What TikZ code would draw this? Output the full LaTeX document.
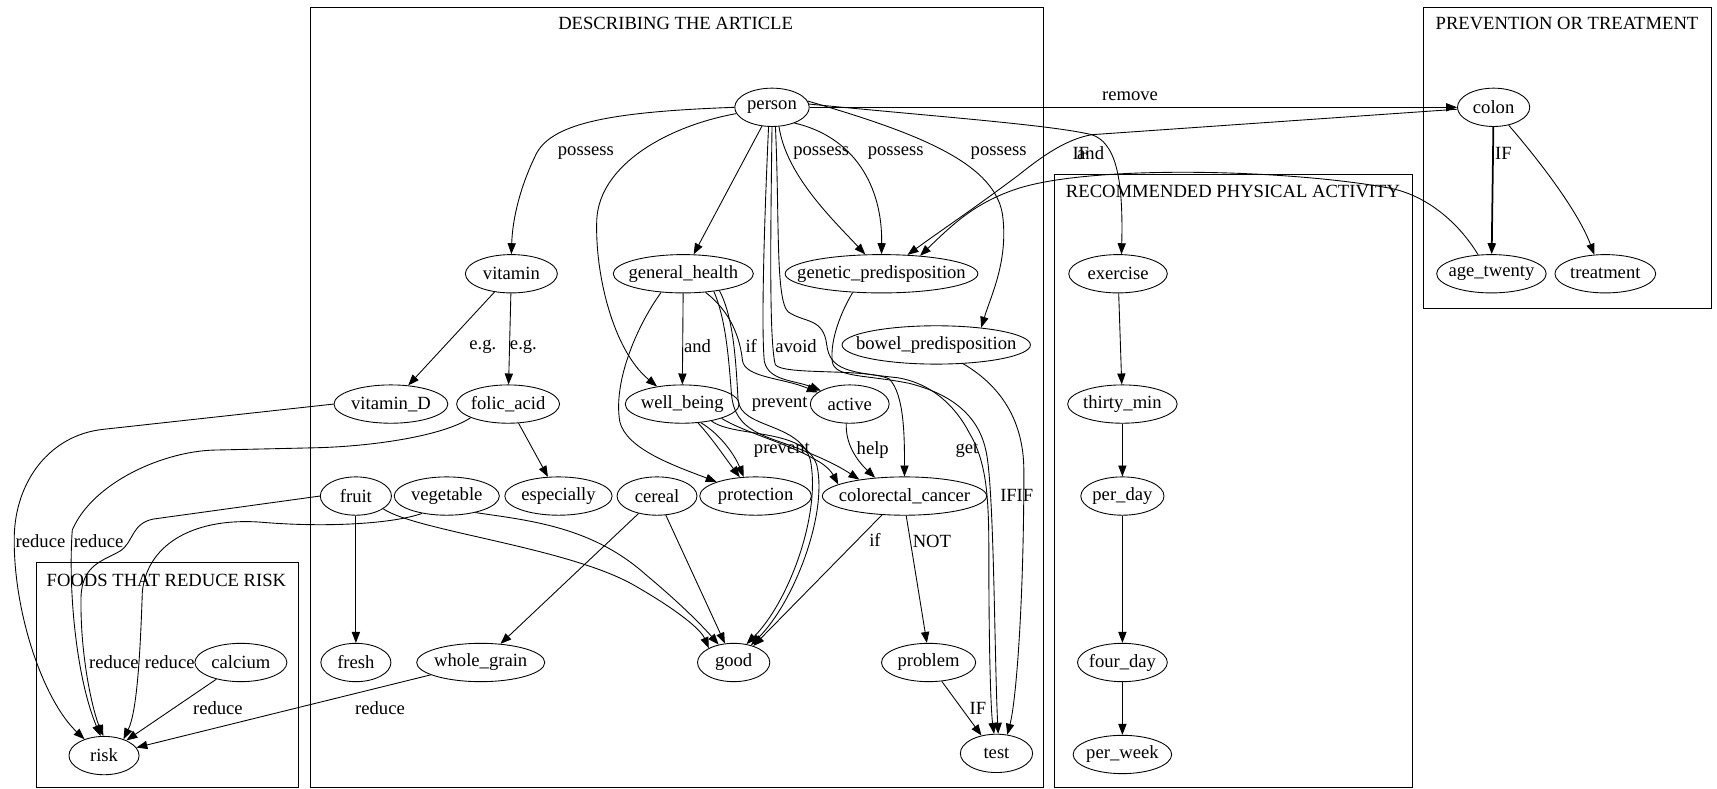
\documentclass[tikz,border=0pt]{standalone}
\usepackage{fontspec}
\setmainfont{Liberation Serif}
\usetikzlibrary{shapes.geometric,arrows.meta}
\newcommand\ntx[1]{\makebox[0pt]{#1}}
\begin{document}
\begin{tikzpicture}[x=1pt,y=-1pt,
  every node/.style={font=\fontsize{17}{19}\selectfont},
  nd/.style={draw, ellipse, inner sep=0pt, minimum height=35pt, minimum width=#1, line width=0.8pt},
  lbl/.style={inner sep=0pt},
  ttl/.style={inner sep=0pt},
  conn/.style={draw, line width=0.8pt, -{Triangle[length=10pt,width=7.5pt]}},
  boxline/.style={draw, line width=0.9pt}]
\useasboundingbox (0,0) rectangle (1568,720.5);

% clusters
\draw[boxline] (284,7) rectangle (953,719);
\draw[boxline] (1300,7) rectangle (1563,282);
\draw[boxline] (963,159) rectangle (1290,719);
\draw[boxline] (33,514) rectangle (273,719);
\node[ttl] (t1) at (617,21) {DESCRIBING THE ARTICLE};
\node[ttl] (t2) at (1431,21) {PREVENTION OR TREATMENT};
\node[ttl] (t3) at (1126,175) {RECOMMENDED PHYSICAL ACTIVITY};
\node[ttl] (t4) at (152,530) {FOODS THAT REDUCE RISK};

% nodes
\node[nd=68pt] (person) at (705,98) {\ntx{person}};
\node[nd=66pt] (colon) at (1364,98) {\ntx{colon}};
\node[nd=84pt] (vitamin) at (467,250) {\ntx{vitamin}};
\node[nd=128pt] (gh) at (624,250) {\ntx{general\_health}};
\node[nd=176pt] (gp) at (805,250) {\ntx{genetic\_predisposition}};
\node[nd=90pt] (exercise) at (1021,250) {\ntx{exercise}};
\node[nd=100pt] (age) at (1362,250) {\ntx{age\_twenty}};
\node[nd=92pt] (treat) at (1466,250) {\ntx{treatment}};
\node[nd=172pt] (bowel) at (855,315) {\ntx{bowel\_predisposition}};
\node[nd=104pt] (vitD) at (357,369) {\ntx{vitamin\_D}};
\node[nd=94pt] (folic) at (464,369) {\ntx{folic\_acid}};
\node[nd=104pt] (wb) at (623,369) {\ntx{well\_being}};
\node[nd=72pt] (active) at (776,369) {\ntx{active}};
\node[nd=100pt] (thirty) at (1025,369) {\ntx{thirty\_min}};
\node[nd=65pt] (fruit) at (325,453) {\ntx{fruit}};
\node[nd=96pt] (veg) at (408,453) {\ntx{vegetable}};
\node[nd=98pt] (esp) at (510,453) {\ntx{especially}};
\node[nd=73pt] (cereal) at (600,453) {\ntx{cereal}};
\node[nd=102pt] (prot) at (690,453) {\ntx{protection}};
\node[nd=150pt] (cc) at (826,453) {\ntx{colorectal\_cancer}};
\node[nd=76pt] (perday) at (1025,453) {\ntx{per\_day}};
\node[nd=64pt] (fresh) at (325,605) {\ntx{fresh}};
\node[nd=117pt] (wg) at (439,605) {\ntx{whole\_grain}};
\node[nd=84pt] (calcium) at (220,605) {\ntx{calcium}};
\node[nd=66pt] (good) at (670,605) {\ntx{good}};
\node[nd=86pt] (problem) at (848,605) {\ntx{problem}};
\node[nd=82pt] (fourday) at (1025,605) {\ntx{four\_day}};
\node[nd=64pt] (risk) at (95,690) {\ntx{risk}};
\node[nd=66pt] (test) at (910,688) {\ntx{test}};
\node[nd=90pt] (perweek) at (1025,689) {\ntx{per\_week}};

% edges from person
\draw[conn] (person.east) -- (colon.west);
\draw[conn] (person.west) .. controls (560,102) and (505,112) .. (490,140) .. controls (475,170) and (468,200) .. (vitamin.north);
\draw[conn] (person.190) .. controls (610,115) and (548,150) .. (545,200) .. controls (543,250) and (560,320) .. (wb.145);
\draw[conn] (person) -- (gh);
\draw[conn] (person.-70) .. controls (718,160) and (760,200) .. (gp.130);
\draw[conn] (person.-35) .. controls (780,125) and (806,170) .. (gp.north);
\draw[conn] (person.10) .. controls (840,122) and (912,150) .. (916,200) .. controls (920,240) and (905,270) .. (bowel.21);
\draw[conn] (person.5) .. controls (850,106) and (960,114) .. (997,123) .. controls (1018,130) and (1026,160) .. (exercise.80);
\draw[conn] (person.-100) .. controls (698,200) and (695,300) .. (698,330) .. controls (702,348) and (725,347) .. (active.155);
\draw[conn] (person.-90) .. controls (704,200) and (702,310) .. (708,333) .. controls (715,343) and (790,336) .. (812,346) .. controls (826,360) and (826,400) .. (cc.north);
\draw[conn] (person.-80) .. controls (712,200) and (708,275) .. (720,285) .. controls (735,295) and (752,290) .. (755,315) .. controls (758,338) and (775,340) .. (820,345) .. controls (850,350) and (872,370) .. (885,395) .. controls (900,420) and (903,450) .. (903,500) .. controls (903,600) and (905,650) .. (test.97);

% prevention cluster
\draw[conn] (colon.183) -- (997,123) .. controls (975,127) and (955,140) .. (930,160) .. controls (890,190) and (860,210) .. (gp.36);
\draw[conn] (age.125) .. controls (1330,200) and (1300,178) .. (1270,172) .. controls (1180,155) and (1000,150) .. (930,172) .. controls (890,185) and (870,205) .. (gp.25);
\draw[conn, line width=1.6pt] (colon) -- (age);
\draw[conn] (colon.-50) .. controls (1400,140) and (1440,190) .. (treat.120);

% physical activity chain
\draw[conn] (exercise) -- (thirty);
\draw[conn] (thirty) -- (perday);
\draw[conn] (perday) -- (fourday);
\draw[conn] (fourday) -- (perweek);

% vitamin
\draw[conn] (vitamin) -- (vitD);
\draw[conn] (vitamin) -- (folic);
\draw[conn] (folic) -- (esp);

% general health / well being
\draw[conn] (gh) -- (wb);
\draw[conn] (gh.-140) .. controls (580,300) and (560,350) .. (566,385) .. controls (572,410) and (615,425) .. (prot.160);
\draw[conn] (gh.-40) .. controls (668,285) and (676,310) .. (678,329) .. controls (680,345) and (715,345) .. (active.160);
\draw[conn] (gh.-30) .. controls (662,290) and (665,320) .. (668,360) .. controls (671,395) and (700,398) .. (730,410) .. controls (750,418) and (765,425) .. (cc.160);
\draw[conn] (gh.-25) .. controls (670,290) and (672,330) .. (674,365) .. controls (676,392) and (730,385) .. (740,420) .. controls (750,470) and (720,550) .. (good.55);
\draw[conn] (wb.-50) .. controls (650,400) and (660,415) .. (prot.130);
\draw[conn] (wb.-45) .. controls (660,398) and (672,418) .. (prot.122);
\draw[conn] (wb.-20) .. controls (680,395) and (720,405) .. (745,420) .. controls (755,425) and (760,432) .. (cc.170);
\draw[conn] (wb.-30) .. controls (670,400) and (735,390) .. (746,425) .. controls (756,470) and (725,550) .. (good.45);
\draw[conn] (active.-100) .. controls (772,405) and (782,420) .. (cc.148);

% colorectal cancer and tests
\draw[conn] (cc.-140) -- (good.40);
\draw[conn] (cc.-85) -- (problem.95);
\draw[conn] (problem.-55) -- (test.130);
\draw[conn] (gp.-147) .. controls (768,285) and (758,310) .. (760,330) .. controls (762,345) and (790,342) .. (830,350) .. controls (870,360) and (893,380) .. (900,410) .. controls (908,440) and (908,600) .. (test.85);
\draw[conn] (bowel.-35) .. controls (910,350) and (935,380) .. (935,430) .. controls (935,550) and (928,640) .. (test.60);

% foods
\draw[conn] (fruit) -- (fresh);
\draw[conn] (fruit.-25) .. controls (380,485) and (520,500) .. (580,535) .. controls (620,558) and (640,575) .. (good.150);
\draw[conn] (veg.-30) .. controls (480,475) and (540,480) .. (590,525) .. controls (620,550) and (640,570) .. (good.130);
\draw[conn] (cereal) -- (wg);
\draw[conn] (cereal) -- (good);

% reduce risk
\draw[conn] (vitD.west) -- (95,392) .. controls (45,397) and (14,440) .. (13,490) .. controls (12,560) and (40,640) .. (risk.140);
\draw[conn] (folic.200) .. controls (405,398) and (340,408) .. (284,409) -- (196,411) .. controls (150,412) and (85,440) .. (66,484) .. controls (62,540) and (70,620) .. (risk.100);
\draw[conn] (fruit.west) -- (140,474) .. controls (120,478) and (122,495) .. (110,503) .. controls (95,512) and (75,515) .. (74,545) .. controls (73,600) and (85,650) .. (risk.92);
\draw[conn] (veg.215) .. controls (360,478) and (300,482) .. (240,477) .. controls (180,472) and (135,495) .. (130,540) .. controls (128,600) and (125,650) .. (risk.40);
\draw[conn] (calcium) -- (risk);
\draw[conn] (wg) -- (risk);

% edge labels
\node[lbl] (l1) at (1032,88) {remove};
\node[lbl] (l2) at (535,140) {possess};
\node[lbl] (l3) at (750,140) {possess};
\node[lbl] (l4) at (818,140) {possess};
\node[lbl] (l5) at (912,140) {possess};
\node[lbl] (l6) at (987,140) {IF};
\node[lbl] (l7) at (996,140) {and};
\node[lbl] (l8) at (1373,140) {IF};
\node[lbl] (l9) at (441,317) {e.g.};
\node[lbl] (l10) at (478,317) {e.g.};
\node[lbl] (l11) at (637,316) {and};
\node[lbl] (l12) at (686,316) {if};
\node[lbl] (l13) at (727,316) {avoid};
\node[lbl] (l14) at (712,369) {prevent};
\node[lbl] (l15) at (714,411) {prevent};
\node[lbl] (l16) at (797,411) {help};
\node[lbl] (l17) at (883,411) {get};
\node[lbl] (l18) at (921,452) {IF};
\node[lbl] (l19) at (936,452) {IF};
\node[lbl] (l20) at (799,493) {if};
\node[lbl] (l21) at (851,494) {NOT};
\node[lbl] (l22) at (893,647) {IF};
\node[lbl] (l23) at (37,494) {reduce};
\node[lbl] (l24) at (90,494) {reduce};
\node[lbl] (l25) at (104,605) {reduce};
\node[lbl] (l26) at (155,605) {reduce};
\node[lbl] (l27) at (199,647) {reduce};
\node[lbl] (l28) at (347,647) {reduce};
\end{tikzpicture}
\end{document}
